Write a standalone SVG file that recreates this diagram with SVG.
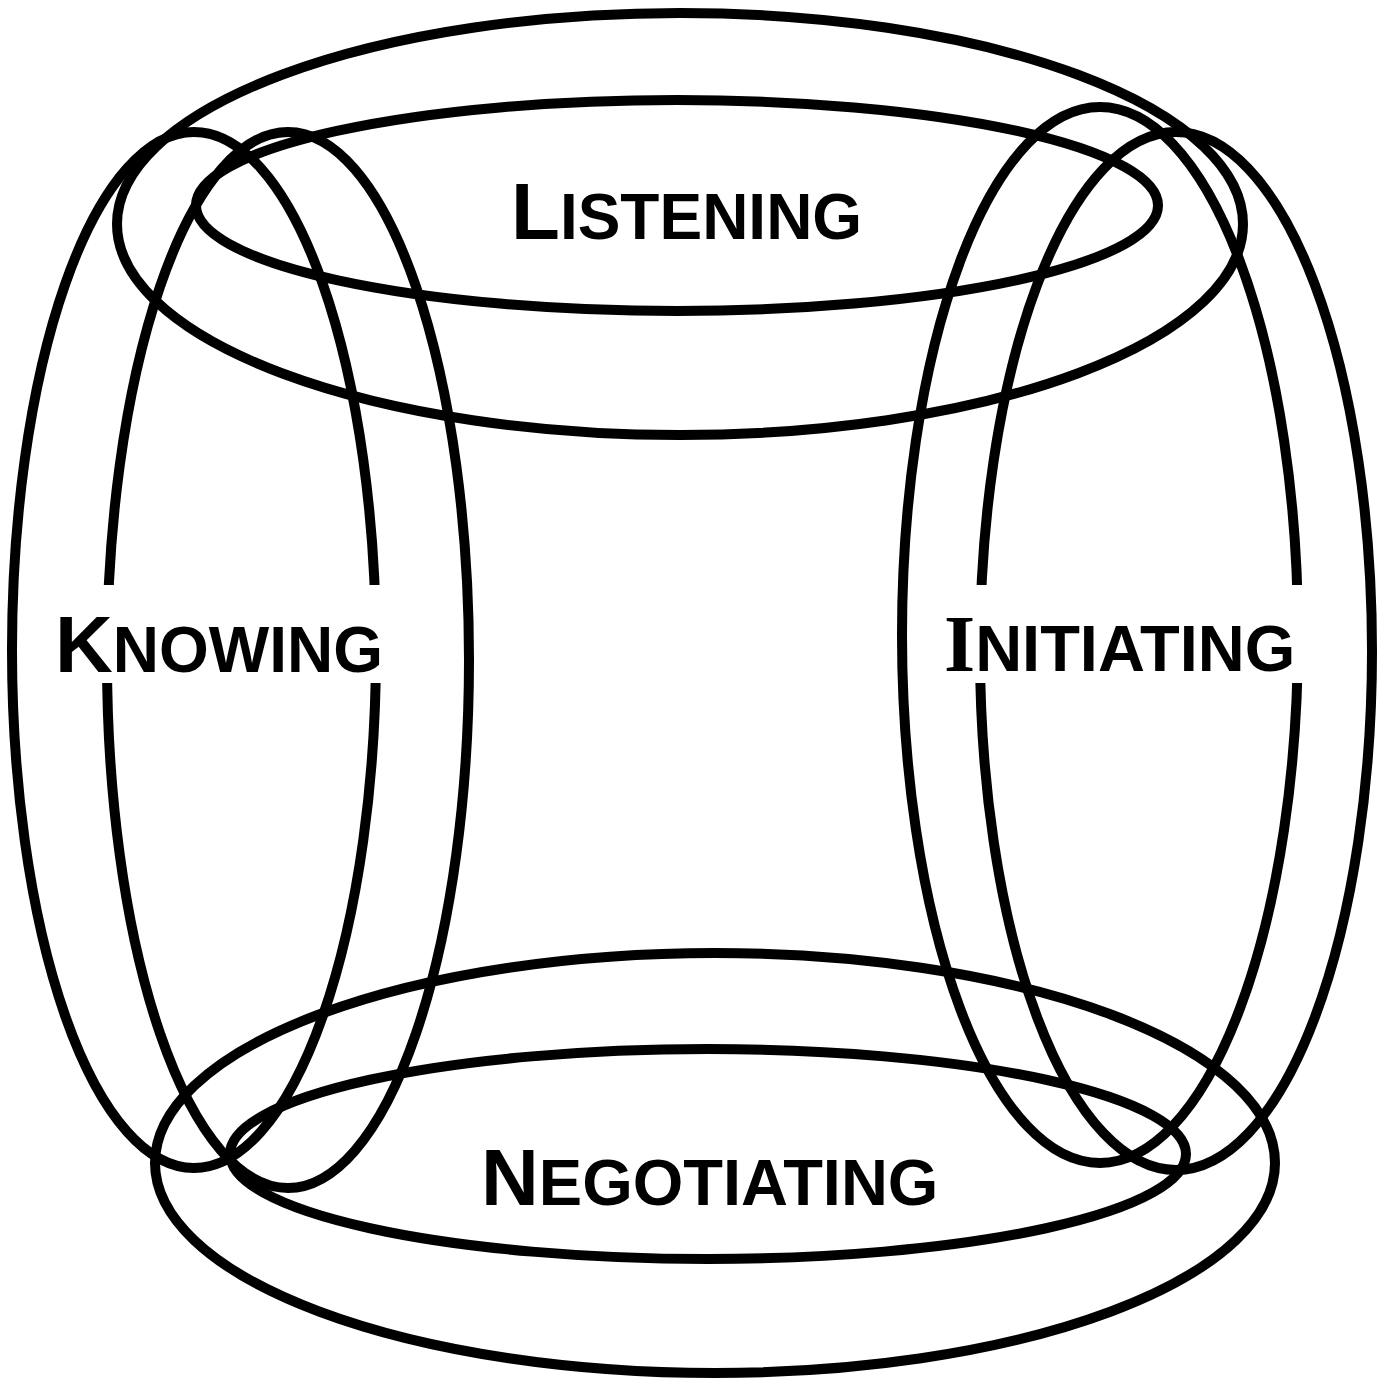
<svg xmlns="http://www.w3.org/2000/svg" width="1382" height="1378" viewBox="0 0 1382 1378">
<style>
.ring{fill:none;stroke:#000;stroke-width:10}
.lbl{font-family:"Liberation Sans",Arial,sans-serif;font-weight:bold;fill:#000;font-size:64px}
.s65{font-size:65px}
.big{font-size:80px}
.serif{font-family:"Liberation Serif","Times New Roman",serif}
.bg{fill:#fff}
</style>
<rect width="1382" height="1378" fill="#fff"/>
<g id="connectors">
<ellipse class="ring" cx="680" cy="224" rx="563" ry="211"/>
<ellipse class="ring" cx="677" cy="205.5" rx="481" ry="105.5"/>
<ellipse class="ring" cx="715" cy="1163" rx="560" ry="210"/>
<ellipse class="ring" cx="708" cy="1154" rx="478" ry="105"/>
<ellipse class="ring" cx="194" cy="650" rx="182" ry="518"/>
<ellipse class="ring" cx="288" cy="660" rx="181" ry="528"/>
<ellipse class="ring" cx="1100" cy="635" rx="198" ry="528"/>
<ellipse class="ring" cx="1176" cy="651" rx="196" ry="519"/>
</g>
<g id="listening">
<text class="lbl" x="511" y="239"><tspan class="big">L</tspan>ISTENING</text>
</g>
<g id="knowing">
<rect class="bg" x="50" y="585" width="340" height="98"/>
<text class="lbl" x="55" y="672"><tspan class="big">K</tspan>NOWING</text>
</g>
<g id="initiating">
<rect class="bg" x="935" y="585" width="375" height="98"/>
<text class="lbl s65" x="944" y="671"><tspan class="big serif">I</tspan>NITIATING</text>
</g>
<g id="negotiating">
<text class="lbl s65" x="481" y="1205"><tspan class="big">N</tspan>EGOTIATING</text>
</g>
</svg>
